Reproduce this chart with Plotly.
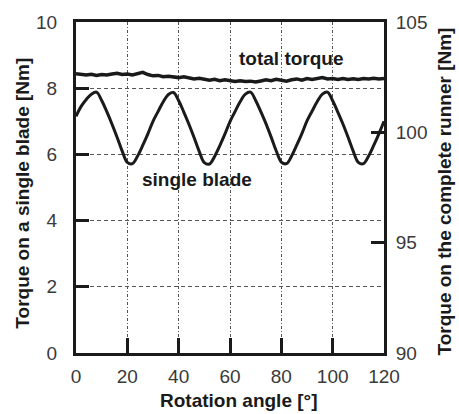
import plotly.graph_objects as go

# Rotation angle [deg]
angle = list(range(0, 121, 2))

# Torque on a single blade [Nm] (left axis)
single_blade = [
    7.15, 7.45, 7.66, 7.82, 7.88, 7.63, 7.29, 6.92, 6.52, 6.10,
    5.76, 5.72, 5.95, 6.27, 6.62, 7.00, 7.30, 7.59, 7.81, 7.87,
    7.62, 7.28, 6.91, 6.51, 6.09, 5.75, 5.71, 5.94, 6.26, 6.61,
    6.99, 7.30, 7.60, 7.82, 7.88, 7.63, 7.29, 6.93, 6.53, 6.11,
    5.77, 5.72, 5.95, 6.28, 6.63, 7.01, 7.31, 7.60, 7.82, 7.88,
    7.62, 7.28, 6.92, 6.52, 6.10, 5.76, 5.72, 5.95, 6.27, 6.62,
    7.00,
]

# Torque on the complete runner [Nm] (right axis)
total_torque = [
    102.66, 102.62, 102.60, 102.63, 102.58, 102.62, 102.60, 102.64, 102.68, 102.62,
    102.64, 102.60, 102.66, 102.72, 102.62, 102.56, 102.58, 102.52, 102.54, 102.50,
    102.48, 102.52, 102.46, 102.42, 102.45, 102.40, 102.36, 102.40, 102.34, 102.38,
    102.32, 102.30, 102.34, 102.30, 102.32, 102.28, 102.33, 102.38, 102.34, 102.40,
    102.36, 102.32, 102.38, 102.42, 102.36, 102.44, 102.40, 102.46, 102.48, 102.42,
    102.44, 102.40, 102.44, 102.40, 102.43, 102.40, 102.44, 102.42, 102.45, 102.42,
    102.44,
]

x_ticks = [0, 20, 40, 60, 80, 100, 120]
left_ticks = [0, 2, 4, 6, 8, 10]
right_ticks = [90, 95, 100, 105]

FONT = "Liberation Sans, Arial, sans-serif"
INK = "#1a1a1a"

fig = go.Figure()
fig.add_trace(go.Scatter(
    x=angle, y=single_blade, mode="lines", name="single blade",
    line=dict(color=INK, width=3, shape="spline", smoothing=1.0),
    yaxis="y", showlegend=False,
))
fig.add_trace(go.Scatter(
    x=angle, y=total_torque, mode="lines", name="total torque",
    line=dict(color=INK, width=3.5),
    yaxis="y2", showlegend=False,
))

tickfont = dict(family=FONT, size=19, color="#3a3a3a")

fig.update_layout(
    width=459, height=414,
    margin=dict(l=76, r=75, t=18, b=61),
    paper_bgcolor="white", plot_bgcolor="rgba(0,0,0,0)",
    xaxis=dict(
        range=[0, 120], tickvals=x_ticks, ticktext=[str(v) for v in x_ticks],
        ticks="inside", ticklen=15, tickwidth=3, tickcolor=INK,
        showline=True, linewidth=3, linecolor=INK, mirror=True,
        showgrid=True, gridcolor="#555555", gridwidth=1, griddash="3px,2px,1px,2px",
        zeroline=False, tickfont=tickfont, ticklabelstandoff=4,
    ),
    yaxis=dict(
        range=[0, 10], tickvals=left_ticks, ticktext=[str(v) for v in left_ticks],
        ticks="inside", ticklen=13, tickwidth=3, tickcolor=INK,
        showline=True, linewidth=3, linecolor=INK,
        showgrid=True, gridcolor="#555555", gridwidth=1, griddash="4px,3px",
        zeroline=False, tickfont=tickfont, ticklabelstandoff=12,
    ),
    yaxis2=dict(
        range=[90, 105], tickvals=right_ticks, ticktext=[str(v) for v in right_ticks],
        overlaying="y", side="right",
        ticks="inside", ticklen=13, tickwidth=3, tickcolor=INK,
        showline=True, linewidth=3, linecolor=INK,
        showgrid=False, zeroline=False, tickfont=tickfont, ticklabelstandoff=5,
    ),
    annotations=[
        dict(text="Rotation angle [°]", xref="paper", yref="paper", x=0.529, y=-0.145,
             xanchor="center", yanchor="middle", showarrow=False,
             font=dict(family=FONT, size=19, color=INK, weight="bold")),
        dict(text="Torque on a single blade [Nm]", xref="paper", yref="paper", x=-0.172, y=0.4815,
             xanchor="center", yanchor="middle", showarrow=False, textangle=-90,
             font=dict(family=FONT, size=19, color=INK, weight="bold")),
        dict(text="Torque on the complete runner [Nm]", xref="paper", yref="paper", x=1.195, y=0.488,
             xanchor="center", yanchor="middle", showarrow=False, textangle=-90,
             font=dict(family=FONT, size=19, color=INK, weight="bold")),
        dict(text="total torque", xref="paper", yref="paper", x=0.7006, y=0.891,
             xanchor="center", yanchor="middle", showarrow=False,
             font=dict(family=FONT, size=19, color=INK, weight="bold")),
        dict(text="single blade", xref="paper", yref="paper", x=0.393, y=0.524,
             xanchor="center", yanchor="middle", showarrow=False,
             font=dict(family=FONT, size=19, color=INK, weight="bold")),
    ],
)

fig.write_html("out.html")
